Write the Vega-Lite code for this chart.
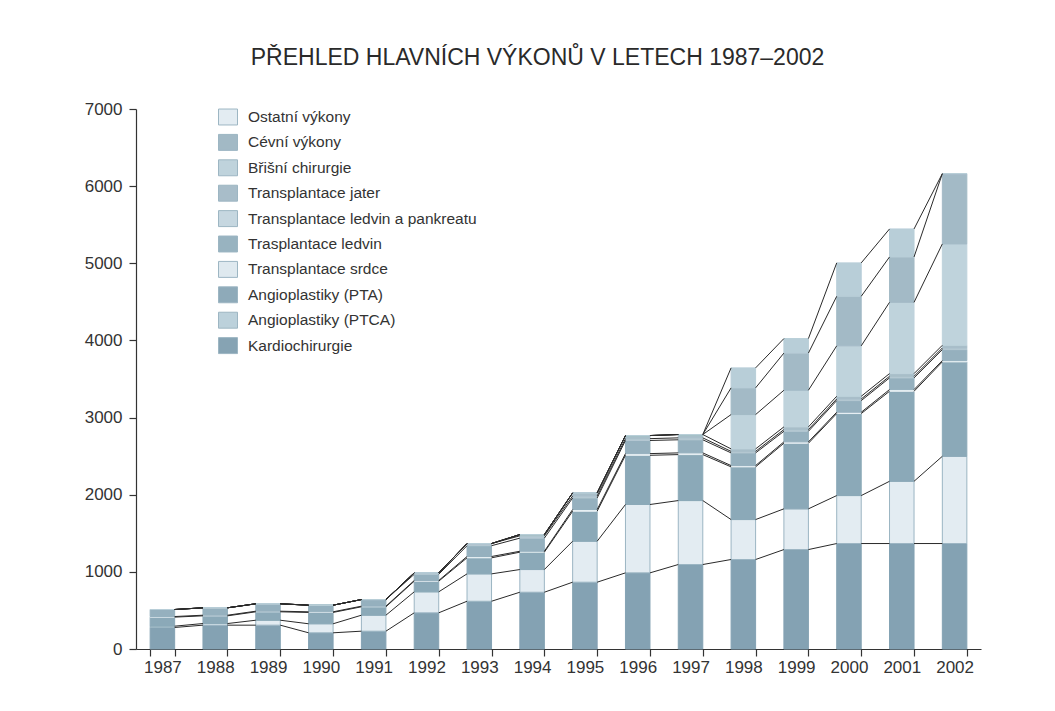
{
"$schema": "https://vega.github.io/schema/vega-lite/v6.json",
"width": 845, "height": 540,
"autosize": "none",
"padding": {"left": 136, "top": 109, "right": 74, "bottom": 62},
"background": "white",
"title": {"text": "PŘEHLED HLAVNÍCH VÝKONŮ V LETECH 1987–2002", "font": "Liberation Sans", "fontSize": 23, "fontWeight": "normal", "color": "#2a2a2a", "anchor": "middle", "frame": "group", "dx": -21, "offset": 12, "baseline": "alphabetic"},
"datasets": {"d": [
{"year":1987,"category":"Kardiochirurgie","value":279},{"year":1987,"category":"Angioplastiky (PTCA)","value":17},{"year":1987,"category":"Angioplastiky (PTA)","value":117},{"year":1987,"category":"Transplantace srdce","value":8},{"year":1987,"category":"Trasplantace ledvin","value":91},{"year":1987,"category":"Transplantace ledvin a pankreatu","value":0},{"year":1987,"category":"Transplantace jater","value":0},{"year":1987,"category":"Břišní chirurgie","value":0},{"year":1987,"category":"Cévní výkony","value":0},{"year":1987,"category":"Ostatní výkony","value":0},
{"year":1988,"category":"Kardiochirurgie","value":309},{"year":1988,"category":"Angioplastiky (PTCA)","value":21},{"year":1988,"category":"Angioplastiky (PTA)","value":100},{"year":1988,"category":"Transplantace srdce","value":8},{"year":1988,"category":"Trasplantace ledvin","value":96},{"year":1988,"category":"Transplantace ledvin a pankreatu","value":0},{"year":1988,"category":"Transplantace jater","value":0},{"year":1988,"category":"Břišní chirurgie","value":0},{"year":1988,"category":"Cévní výkony","value":0},{"year":1988,"category":"Ostatní výkony","value":0},
{"year":1989,"category":"Kardiochirurgie","value":309},{"year":1989,"category":"Angioplastiky (PTCA)","value":64},{"year":1989,"category":"Angioplastiky (PTA)","value":109},{"year":1989,"category":"Transplantace srdce","value":8},{"year":1989,"category":"Trasplantace ledvin","value":96},{"year":1989,"category":"Transplantace ledvin a pankreatu","value":0},{"year":1989,"category":"Transplantace jater","value":0},{"year":1989,"category":"Břišní chirurgie","value":0},{"year":1989,"category":"Cévní výkony","value":0},{"year":1989,"category":"Ostatní výkony","value":0},
{"year":1990,"category":"Kardiochirurgie","value":210},{"year":1990,"category":"Angioplastiky (PTCA)","value":117},{"year":1990,"category":"Angioplastiky (PTA)","value":147},{"year":1990,"category":"Transplantace srdce","value":8},{"year":1990,"category":"Trasplantace ledvin","value":86},{"year":1990,"category":"Transplantace ledvin a pankreatu","value":0},{"year":1990,"category":"Transplantace jater","value":0},{"year":1990,"category":"Břišní chirurgie","value":0},{"year":1990,"category":"Cévní výkony","value":0},{"year":1990,"category":"Ostatní výkony","value":0},
{"year":1991,"category":"Kardiochirurgie","value":231},{"year":1991,"category":"Angioplastiky (PTCA)","value":207},{"year":1991,"category":"Angioplastiky (PTA)","value":109},{"year":1991,"category":"Transplantace srdce","value":8},{"year":1991,"category":"Trasplantace ledvin","value":86},{"year":1991,"category":"Transplantace ledvin a pankreatu","value":0},{"year":1991,"category":"Transplantace jater","value":0},{"year":1991,"category":"Břišní chirurgie","value":0},{"year":1991,"category":"Cévní výkony","value":0},{"year":1991,"category":"Ostatní výkony","value":0},
{"year":1992,"category":"Kardiochirurgie","value":469},{"year":1992,"category":"Angioplastiky (PTCA)","value":272},{"year":1992,"category":"Angioplastiky (PTA)","value":138},{"year":1992,"category":"Transplantace srdce","value":9},{"year":1992,"category":"Trasplantace ledvin","value":80},{"year":1992,"category":"Transplantace ledvin a pankreatu","value":19},{"year":1992,"category":"Transplantace jater","value":0},{"year":1992,"category":"Břišní chirurgie","value":0},{"year":1992,"category":"Cévní výkony","value":0},{"year":1992,"category":"Ostatní výkony","value":0},
{"year":1993,"category":"Kardiochirurgie","value":619},{"year":1993,"category":"Angioplastiky (PTCA)","value":355},{"year":1993,"category":"Angioplastiky (PTA)","value":208},{"year":1993,"category":"Transplantace srdce","value":17},{"year":1993,"category":"Trasplantace ledvin","value":140},{"year":1993,"category":"Transplantace ledvin a pankreatu","value":28},{"year":1993,"category":"Transplantace jater","value":0},{"year":1993,"category":"Břišní chirurgie","value":0},{"year":1993,"category":"Cévní výkony","value":0},{"year":1993,"category":"Ostatní výkony","value":0},
{"year":1994,"category":"Kardiochirurgie","value":736},{"year":1994,"category":"Angioplastiky (PTCA)","value":294},{"year":1994,"category":"Angioplastiky (PTA)","value":225},{"year":1994,"category":"Transplantace srdce","value":12},{"year":1994,"category":"Trasplantace ledvin","value":170},{"year":1994,"category":"Transplantace ledvin a pankreatu","value":30},{"year":1994,"category":"Transplantace jater","value":17},{"year":1994,"category":"Břišní chirurgie","value":0},{"year":1994,"category":"Cévní výkony","value":0},{"year":1994,"category":"Ostatní výkony","value":0},
{"year":1995,"category":"Kardiochirurgie","value":866},{"year":1995,"category":"Angioplastiky (PTCA)","value":531},{"year":1995,"category":"Angioplastiky (PTA)","value":389},{"year":1995,"category":"Transplantace srdce","value":22},{"year":1995,"category":"Trasplantace ledvin","value":150},{"year":1995,"category":"Transplantace ledvin a pankreatu","value":26},{"year":1995,"category":"Transplantace jater","value":40},{"year":1995,"category":"Břišní chirurgie","value":0},{"year":1995,"category":"Cévní výkony","value":0},{"year":1995,"category":"Ostatní výkony","value":0},
{"year":1996,"category":"Kardiochirurgie","value":987},{"year":1996,"category":"Angioplastiky (PTCA)","value":886},{"year":1996,"category":"Angioplastiky (PTA)","value":638},{"year":1996,"category":"Transplantace srdce","value":22},{"year":1996,"category":"Trasplantace ledvin","value":170},{"year":1996,"category":"Transplantace ledvin a pankreatu","value":24},{"year":1996,"category":"Transplantace jater","value":40},{"year":1996,"category":"Břišní chirurgie","value":0},{"year":1996,"category":"Cévní výkony","value":0},{"year":1996,"category":"Ostatní výkony","value":0},
{"year":1997,"category":"Kardiochirurgie","value":1095},{"year":1997,"category":"Angioplastiky (PTCA)","value":829},{"year":1997,"category":"Angioplastiky (PTA)","value":596},{"year":1997,"category":"Transplantace srdce","value":22},{"year":1997,"category":"Trasplantace ledvin","value":170},{"year":1997,"category":"Transplantace ledvin a pankreatu","value":25},{"year":1997,"category":"Transplantace jater","value":43},{"year":1997,"category":"Břišní chirurgie","value":0},{"year":1997,"category":"Cévní výkony","value":0},{"year":1997,"category":"Ostatní výkony","value":0},
{"year":1998,"category":"Kardiochirurgie","value":1160},{"year":1998,"category":"Angioplastiky (PTCA)","value":518},{"year":1998,"category":"Angioplastiky (PTA)","value":683},{"year":1998,"category":"Transplantace srdce","value":17},{"year":1998,"category":"Trasplantace ledvin","value":164},{"year":1998,"category":"Transplantace ledvin a pankreatu","value":20},{"year":1998,"category":"Transplantace jater","value":32},{"year":1998,"category":"Břišní chirurgie","value":445},{"year":1998,"category":"Cévní výkony","value":346},{"year":1998,"category":"Ostatní výkony","value":259},
{"year":1999,"category":"Kardiochirurgie","value":1289},{"year":1999,"category":"Angioplastiky (PTCA)","value":528},{"year":1999,"category":"Angioplastiky (PTA)","value":850},{"year":1999,"category":"Transplantace srdce","value":18},{"year":1999,"category":"Trasplantace ledvin","value":137},{"year":1999,"category":"Transplantace ledvin a pankreatu","value":22},{"year":1999,"category":"Transplantace jater","value":35},{"year":1999,"category":"Břišní chirurgie","value":475},{"year":1999,"category":"Cévní výkony","value":482},{"year":1999,"category":"Ostatní výkony","value":188},
{"year":2000,"category":"Kardiochirurgie","value":1367},{"year":2000,"category":"Angioplastiky (PTCA)","value":622},{"year":2000,"category":"Angioplastiky (PTA)","value":1063},{"year":2000,"category":"Transplantace srdce","value":17},{"year":2000,"category":"Trasplantace ledvin","value":151},{"year":2000,"category":"Transplantace ledvin a pankreatu","value":21},{"year":2000,"category":"Transplantace jater","value":35},{"year":2000,"category":"Břišní chirurgie","value":654},{"year":2000,"category":"Cévní výkony","value":642},{"year":2000,"category":"Ostatní výkony","value":433},
{"year":2001,"category":"Kardiochirurgie","value":1367},{"year":2001,"category":"Angioplastiky (PTCA)","value":807},{"year":2001,"category":"Angioplastiky (PTA)","value":1167},{"year":2001,"category":"Transplantace srdce","value":22},{"year":2001,"category":"Trasplantace ledvin","value":151},{"year":2001,"category":"Transplantace ledvin a pankreatu","value":21},{"year":2001,"category":"Transplantace jater","value":35},{"year":2001,"category":"Břišní chirurgie","value":924},{"year":2001,"category":"Cévní výkony","value":588},{"year":2001,"category":"Ostatní výkony","value":363},
{"year":2002,"category":"Kardiochirurgie","value":1367},{"year":2002,"category":"Angioplastiky (PTCA)","value":1131},{"year":2002,"category":"Angioplastiky (PTA)","value":1224},{"year":2002,"category":"Transplantace srdce","value":17},{"year":2002,"category":"Trasplantace ledvin","value":142},{"year":2002,"category":"Transplantace ledvin a pankreatu","value":21},{"year":2002,"category":"Transplantace jater","value":35},{"year":2002,"category":"Břišní chirurgie","value":1314},{"year":2002,"category":"Cévní výkony","value":911},{"year":2002,"category":"Ostatní výkony","value":0}
]},
"data": {"name": "d"},
"transform": [
  {"calculate": "indexof(['Kardiochirurgie','Angioplastiky (PTCA)','Angioplastiky (PTA)','Transplantace srdce','Trasplantace ledvin','Transplantace ledvin a pankreatu','Transplantace jater','Břišní chirurgie','Cévní výkony','Ostatní výkony'], datum.category)", "as": "k"}
],
"layer": [
  {
    "mark": {"type": "bar", "strokeWidth": 1},
    "encoding": {
      "x": {"field": "year", "type": "ordinal", "scale": {"paddingInner": 0.536, "paddingOuter": 0.268},
            "axis": {"title": null, "labelAngle": 0, "tickBand": "extent", "tickSize": 7, "labelPadding": 3}},
      "y": {"field": "value", "type": "quantitative", "stack": "zero", "scale": {"domain": [0, 7000], "nice": false},
            "axis": {"title": null, "values": [0,1000,2000,3000,4000,5000,6000,7000], "format": "d", "tickSize": 7, "labelPadding": 7, "grid": false}},
      "color": {"field": "category", "type": "nominal", "legend": null,
        "scale": {"domain": ["Kardiochirurgie","Angioplastiky (PTCA)","Angioplastiky (PTA)","Transplantace srdce","Trasplantace ledvin","Transplantace ledvin a pankreatu","Transplantace jater","Břišní chirurgie","Cévní výkony","Ostatní výkony"],
                  "range": ["#84a2b3","#e3ecf2","#8ba9b8","#e8f0f4","#95b0be","#b4c8d2","#a8bec9","#bfd3dc","#a3bac6","#b8ced8"]}},
      "stroke": {"field": "category", "type": "nominal", "legend": null,
        "scale": {"domain": ["Kardiochirurgie","Angioplastiky (PTCA)","Angioplastiky (PTA)","Transplantace srdce","Trasplantace ledvin","Transplantace ledvin a pankreatu","Transplantace jater","Břišní chirurgie","Cévní výkony","Ostatní výkony"],
                  "range": ["#84a2b3","#9bb5c3","#8ba9b8","#e8f0f4","#95b0be","#b4c8d2","#a8bec9","#bfd3dc","#a3bac6","#b8ced8"]}},
      "order": {"field": "k", "type": "quantitative"}
    }
  },
  {
    "transform": [
      {"window": [{"op": "sum", "field": "value", "as": "cum"}], "groupby": ["year"], "sort": [{"field": "k"}], "frame": [null, 0]},
      {"window": [{"op": "lead", "field": "cum", "as": "nextCum"}, {"op": "lead", "field": "year", "as": "nextYear"}], "groupby": ["category"], "sort": [{"field": "year"}], "frame": [null, null]},
      {"filter": "datum.nextYear != null"}
    ],
    "mark": {"type": "rule", "color": "#2a2a2a", "strokeWidth": 1},
    "encoding": {
      "x": {"field": "year", "type": "ordinal", "bandPosition": 1},
      "x2": {"field": "nextYear", "bandPosition": 0},
      "y": {"field": "cum", "type": "quantitative", "scale": {"domain": [0, 7000], "nice": false}},
      "y2": {"field": "nextCum"}
    }
  },
  {
    "mark": {"type": "point", "filled": true, "opacity": 0},
    "encoding": {
      "x": {"field": "year", "type": "ordinal"},
      "y": {"field": "value", "type": "quantitative", "scale": {"domain": [0, 7000], "nice": false}},
      "color": {"field": "category", "type": "nominal",
        "scale": {"domain": ["Ostatní výkony","Cévní výkony","Břišní chirurgie","Transplantace jater","Transplantace ledvin a pankreatu","Trasplantace ledvin","Transplantace srdce","Angioplastiky (PTA)","Angioplastiky (PTCA)","Kardiochirurgie"],
                  "range": ["#e3ecf2","#a2b9c5","#bfd3dc","#a8bdc9","#c6d7e0","#98b3c0","#dfe9ef","#8eaab9","#bcd1db","#86a3b3"]},
        "legend": {"orient": "none", "legendX": 82, "legendY": -2, "title": null,
                   "symbolType": "M-1,-0.84H1V0.84H-1Z", "symbolSize": 361, "symbolOpacity": 1,
                   "symbolStrokeColor": "#9db6c3", "symbolStrokeWidth": 1,
                   "labelFont": "Liberation Sans", "labelFontSize": 15.5, "labelColor": "#333",
                   "labelOffset": 10, "rowPadding": 5.4, "labelLimit": 400}}
    }
  }
],
"resolve": {"scale": {"color": "independent"}},
"config": {
  "view": {"stroke": null},
  "axis": {"labelFont": "Liberation Sans", "labelFontSize": 17, "labelColor": "#333", "domainColor": "#333", "tickColor": "#333", "domainWidth": 1.2, "tickWidth": 1.2}
}
}
